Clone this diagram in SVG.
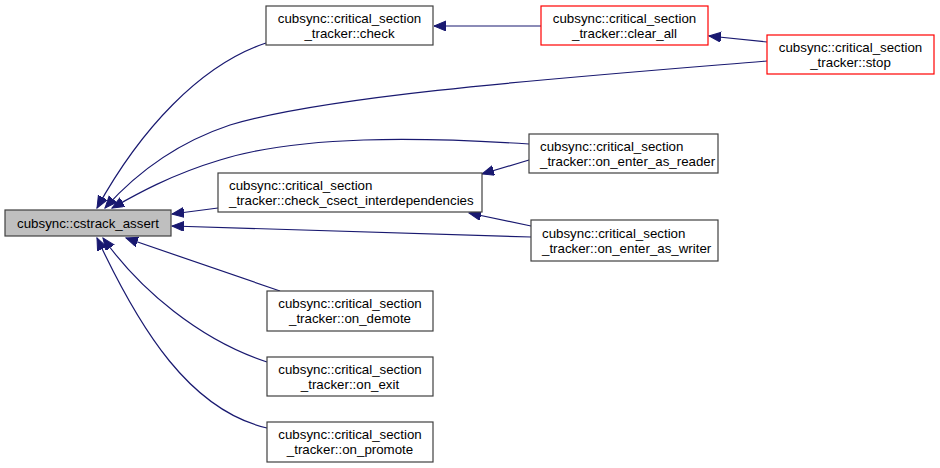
<svg xmlns="http://www.w3.org/2000/svg" width="940" height="468" viewBox="0 0 940 468">
<defs>
<marker id="ah" markerUnits="userSpaceOnUse" markerWidth="14" markerHeight="11" refX="12" refY="5" orient="auto">
<path d="M0,0 L12,5 L0,10 z" fill="#191970" stroke="#191970"/>
</marker>
</defs>
<style>
.n rect{fill:#fff;stroke:#404040;stroke-width:1.2}
.r rect{stroke:#ff0000}
.m rect{fill:#bfbfbf}
text{font-family:"Liberation Sans",Arial,sans-serif;font-size:13.3px;fill:#000}
.c{text-anchor:middle}
.e path{fill:none;stroke:#191970;stroke-width:1.2;marker-end:url(#ah)}
</style>
<rect width="940" height="468" fill="#fff"/>
<g class="e" id="edges">
<path d="M266,43 C200,65 140,130 97,208"/>
<path d="M767,61 C560,78 330,95 230,125 C170,145 130,180 105,208"/>
<path d="M529,144 C420,137 300,135 220,160 C170,175 135,195 112,208"/>
<path d="M218,208 L172,214"/>
<path d="M531,237 L172,226"/>
<path d="M280,291 L126,238"/>
<path d="M267,362 C200,340 140,290 103,238"/>
<path d="M267,428 C190,410 140,330 97,238"/>
<path d="M541,26 L434,26"/>
<path d="M767,42 L709,36"/>
<path d="M529,160 L482,174"/>
<path d="M531,226 L469,213"/>
</g>
<g class="n m" id="cstrack_assert"><rect x="5" y="210" width="166" height="26"/><text class="c" x="88" y="228">cubsync::cstrack_assert</text></g>
<g class="n" id="check"><rect x="266" y="6" width="167" height="39"/><text class="c" x="349.5" y="23">cubsync::critical_section</text><text class="c" x="349.5" y="38">_tracker::check</text></g>
<g class="n r" id="clear_all"><rect x="541" y="6" width="167" height="39"/><text class="c" x="624.5" y="23">cubsync::critical_section</text><text class="c" x="624.5" y="38">_tracker::clear_all</text></g>
<g class="n r" id="stop"><rect x="767" y="35" width="167" height="39"/><text class="c" x="850.5" y="52">cubsync::critical_section</text><text class="c" x="850.5" y="67">_tracker::stop</text></g>
<g class="n" id="check_csect"><rect x="218" y="173" width="264" height="39"/><text x="229" y="190">cubsync::critical_section</text><text x="229" y="205">_tracker::check_csect_interdependencies</text></g>
<g class="n" id="on_enter_as_reader"><rect x="529" y="134" width="189" height="39"/><text x="540" y="151">cubsync::critical_section</text><text x="540" y="166">_tracker::on_enter_as_reader</text></g>
<g class="n" id="on_enter_as_writer"><rect x="531" y="220" width="187" height="41"/><text x="542" y="238">cubsync::critical_section</text><text x="542" y="253">_tracker::on_enter_as_writer</text></g>
<g class="n" id="on_demote"><rect x="267" y="291" width="166" height="40"/><text class="c" x="350" y="308">cubsync::critical_section</text><text class="c" x="350" y="323">_tracker::on_demote</text></g>
<g class="n" id="on_exit"><rect x="267" y="357" width="166" height="39"/><text class="c" x="350" y="374">cubsync::critical_section</text><text class="c" x="350" y="389">_tracker::on_exit</text></g>
<g class="n" id="on_promote"><rect x="267" y="422" width="166" height="40"/><text class="c" x="350" y="439">cubsync::critical_section</text><text class="c" x="350" y="454">_tracker::on_promote</text></g>
</svg>
